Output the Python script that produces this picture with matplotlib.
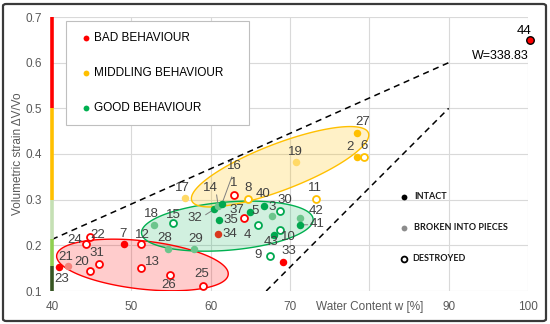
import numpy as np
import matplotlib
matplotlib.use('Agg')
import matplotlib.pyplot as plt
from matplotlib.patches import Polygon, FancyBboxPatch, Rectangle

plt.rcParams['font.family'] = ['Liberation Sans', 'DejaVu Sans']

# ---- data ----
SAMPLE_IDS = [23, 21, 20, 31, 24, 22, 7, 12, 13, 26, 25,
              18, 15, 28, 29, 17, 32, 14, 16, 1, 8, 40, 37, 5, 3,
              35, 34, 4, 30, 42, 41, 10, 43, 9, 33, 11, 19, 27, 2, 6, 44]
WATER = [40.9, 42.0, 44.8, 45.9, 44.3, 44.8, 49.1, 51.2, 51.2, 54.9, 59.0,
         52.8, 55.3, 54.6, 57.9, 56.75, 60.45, 60.95, 61.4, 62.9, 64.7, 66.7, 64.2, 64.9, 67.7,
         61.1, 60.95, 66.0, 68.7, 71.2, 71.2, 68.7, 68.0, 67.5, 69.1, 73.3, 70.7, 78.5, 78.45, 79.3, 100.2]
STRAIN = [0.153, 0.155, 0.144, 0.159, 0.204, 0.219, 0.202, 0.203, 0.151, 0.135, 0.111,
          0.245, 0.250, 0.191, 0.193, 0.303, 0.279, 0.286, 0.290, 0.310, 0.301, 0.286, 0.260, 0.274, 0.264,
          0.255, 0.225, 0.245, 0.276, 0.259, 0.245, 0.234, 0.223, 0.177, 0.163, 0.301, 0.383, 0.447, 0.394, 0.393, 0.650]
BEHAVIOUR = ['bad'] * 11 + ['good', 'good', 'good', 'good', 'mid', 'good', 'good', 'good', 'bad', 'mid',
                            'good', 'bad', 'good', 'good', 'good', 'bad', 'good', 'good', 'good', 'good',
                            'good', 'good', 'good', 'bad', 'mid', 'mid', 'mid', 'mid', 'mid', 'bad']
STATE = ['intact', 'broken', 'destroyed', 'destroyed', 'destroyed', 'destroyed', 'intact',
         'destroyed', 'destroyed', 'destroyed', 'destroyed',
         'broken', 'destroyed', 'broken', 'broken', 'broken', 'intact', 'broken', 'intact',
         'destroyed', 'destroyed', 'intact', 'destroyed', 'intact', 'broken',
         'intact', 'intact', 'destroyed', 'destroyed', 'broken', 'intact', 'destroyed', 'intact',
         'destroyed', 'intact', 'destroyed', 'broken', 'intact', 'intact', 'destroyed', 'intact']

UPPER_LINE_X = [40, 90]
UPPER_LINE_Y = [0.213, 0.60]
LOWER_LINE_X = [67, 90]
LOWER_LINE_Y = [0.10, 0.50]

BAR_LIMITS = [0.10, 0.155, 0.213, 0.30, 0.50, 0.70]
BAR_COLORS = ['#375623', '#8FCF4F', '#C5E0B4', '#FFC000', '#FF0000']

X_TICKS = [40, 50, 60, 70, 80, 90, 100]
X_TICK_LABELS = ['40', '50', '60', '70', 'Water Content w [%]', '90', '100']
Y_TICKS = [0.1, 0.2, 0.3, 0.4, 0.5, 0.6, 0.7]

# ---- styling ----
MAIN = {'bad': '#FF0000', 'mid': '#FFC000', 'good': '#00A84F'}
LIGHT = {'bad': '#F4837D', 'mid': '#FFD966', 'good': '#6CC58C'}
LABEL_COLOR = '#404040'
GRID = '#D9D9D9'

# label offsets in pixels (dx, dy) relative to the point
LABEL_OFFSETS = {
    23: (3, -12), 21: (-2, 9), 20: (-8, 9), 31: (-2, 11), 24: (-11, 4), 22: (8, 2),
    7: (-1, 10), 12: (2, 9), 13: (12, 6), 26: (-2, -10), 25: (-1, 12),
    18: (-2, 11), 15: (0, 8), 28: (-3, 11), 29: (2, 10), 17: (-2, 10),
    32: (-19, -9), 14: (-8, 18), 16: (13, 38), 1: (0, 12), 8: (0, 11), 40: (-1, 12),
    37: (-7, 8), 5: (6, 1), 3: (0, 9), 35: (11, 0), 34: (12, 0), 4: (-11, -10),
    30: (5, 11), 42: (17, 7), 41: (18, 1), 10: (9, -7), 43: (-3, -7), 9: (-12, 1),
    33: (6, 11), 11: (-1, 11), 19: (0, 10), 27: (5, 11), 2: (-7, 10), 6: (0, 11),
    44: (-6, 9),
}
LEADERS = {14: (-2, 14), 16: (11, 30), 32: (-11, -7), 41: (11, 0)}

# ellipses: centre (data), semi axes (px), angle (deg)
ELLIPSES = [
    (51.4, 0.157, 86.3, 24.1, -6.4, MAIN['bad'], '#FF0000', 0.20),
    (62.1, 0.242, 86.1, 24.1, 4.7, '#00B050', '#00B050', 0.18),
    (68.75, 0.372, 94.6, 23.2, 21.0, '#FFC000', '#FFC000', 0.22),
]


def ellipse_vertices(ax, cx, cy, a, b, ang_deg):
    bbox = ax.get_window_extent()
    x0, x1 = ax.get_xlim()
    y0, y1 = ax.get_ylim()
    sx = bbox.width / (x1 - x0)
    sy = bbox.height / (y1 - y0)
    t = np.linspace(0, 2 * np.pi, 240)
    ang = np.deg2rad(ang_deg)
    dx = a * np.cos(t) * np.cos(ang) - b * np.sin(t) * np.sin(ang)
    dy = a * np.cos(t) * np.sin(ang) + b * np.sin(t) * np.cos(ang)
    return np.column_stack([cx + dx / sx, cy + dy / sy])


def main():
    fig = plt.figure(figsize=(5.5, 3.24), dpi=100, facecolor='white')
    ax = fig.add_axes([52 / 550, 1 - 291 / 324, 476 / 550, 274 / 324])
    ax.set_xlim(40, 100)
    ax.set_ylim(0.1, 0.7)

    ax.set_xticks(X_TICKS)
    ax.set_xticklabels(X_TICK_LABELS)
    ax.set_yticks(Y_TICKS)
    ax.set_yticklabels([f"{v:.1f}" for v in Y_TICKS])
    ax.tick_params(length=0, labelsize=8.5, labelcolor='#595959', pad=7)
    ax.grid(True, color=GRID, lw=0.8)
    ax.set_axisbelow(True)
    for s in ax.spines.values():
        s.set_visible(False)
    ax.set_ylabel("Volumetric strain \u0394V/Vo", fontsize=8.5, color='#595959', labelpad=1)

    # coloured bar along the y axis
    for lo, hi, c in zip(BAR_LIMITS[:-1], BAR_LIMITS[1:], BAR_COLORS):
        ax.plot([40, 40], [lo, hi], color=c, lw=2.6, solid_capstyle='butt', clip_on=False, zorder=3)

    # ellipses
    for cx, cy, a, b, ang, fc, ec, alpha in ELLIPSES:
        verts = ellipse_vertices(ax, cx, cy, a, b, ang)
        ax.add_patch(Polygon(verts, closed=True, facecolor=fc, alpha=alpha, edgecolor='none', zorder=1))
        ax.add_patch(Polygon(verts, closed=True, facecolor='none', edgecolor=ec, lw=1.0, zorder=2))

    # dashed limit lines
    ax.plot(UPPER_LINE_X, UPPER_LINE_Y, color='black', lw=1.1, dashes=(4, 3), zorder=2)
    ax.plot(LOWER_LINE_X, LOWER_LINE_Y, color='black', lw=1.1, dashes=(4, 3), zorder=2)

    # points
    for sid, x, y, beh, st in zip(SAMPLE_IDS, WATER, STRAIN, BEHAVIOUR, STATE):
        if st == 'destroyed':
            ax.plot(x, y, 'o', ms=5.0, mfc='white', mec=MAIN[beh], mew=1.3, zorder=4)
        elif st == 'broken':
            ax.plot(x, y, 'o', ms=5.4, mfc=LIGHT[beh], mec='none', zorder=4)
        else:
            fc = '#D9381E' if sid == 34 else MAIN[beh]
            ec = 'black' if sid == 44 else 'none'
            ax.plot(x, y, 'o', ms=5.4, mfc=fc, mec=ec, mew=1.0, zorder=4, clip_on=False)
        dx, dy = LABEL_OFFSETS[sid]
        ax.annotate(str(sid), (x, y), xytext=(dx, dy), textcoords='offset pixels',
                    ha='center', va='center', fontsize=9.5,
                    color='black' if sid == 44 else LABEL_COLOR, zorder=5,
                    annotation_clip=False)
        if sid in LEADERS:
            lx, ly = LEADERS[sid]
            ax.annotate('', (x, y), xytext=(lx, ly), textcoords='offset pixels',
                        arrowprops=dict(arrowstyle='-', color='#7F7F7F', lw=0.7), zorder=3)

    ax.annotate("W=338.83", (WATER[-1], STRAIN[-1]), xytext=(-29, -16), textcoords='offset pixels',
                ha='center', va='center', fontsize=9, color='black', annotation_clip=False)

    # behaviour legend (boxed)
    ax.add_patch(Rectangle((0.0294, 0.606), 0.385, 0.379, transform=ax.transAxes,
                           facecolor='white', edgecolor='#BFBFBF', lw=0.8, zorder=6))
    legend_rows = [("BAD BEHAVIOUR", MAIN['bad'], 0.925),
                   ("MIDDLING BEHAVIOUR", MAIN['mid'], 0.797),
                   ("GOOD BEHAVIOUR", '#00B050', 0.668)]
    for txt, c, yy in legend_rows:
        ax.plot(0.071, yy, 'o', ms=4.2, mfc=c, mec='none', transform=ax.transAxes, zorder=7)
        ax.text(0.088, yy, txt, transform=ax.transAxes, fontsize=8.5, color='black',
                va='center', ha='left', zorder=7)

    # state legend (no box)
    state_rows = [("INTACT", 'intact', 196.5), ("BROKEN INTO PIECES", 'broken', 227.5),
                  ("DESTROYED", 'destroyed', 258.5)]
    for txt, st, py in state_rows:
        xa = (404 - 52) / 476
        ya = (291 - py) / 274
        if st == 'destroyed':
            ax.plot(xa, ya, 'o', ms=4.2, mfc='white', mec='black', mew=1.3, transform=ax.transAxes, zorder=7)
            tx = (412 - 52) / 476
        else:
            ax.plot(xa, ya, 'o', ms=4.2, mfc='black' if st == 'intact' else '#8C8C8C', mec='none',
                    transform=ax.transAxes, zorder=7)
            tx = (414 - 52) / 476
        ax.text(tx, ya, txt, transform=ax.transAxes, fontsize=6.5, fontweight='bold',
                family=['Lato', 'DejaVu Sans'], color='#1A1A1A', va='center', ha='left', zorder=7)

    # outer frame
    fig.patches.append(FancyBboxPatch((3 / 550, 3 / 324), 543 / 550, 317 / 324,
                                      boxstyle='round,pad=0,rounding_size=0.006',
                                      transform=fig.transFigure, facecolor='none',
                                      edgecolor='#3A3A3A', lw=1.6))

    fig.savefig("out.png", dpi=100, facecolor='white')
    plt.close(fig)


if __name__ == "__main__":
    main()
